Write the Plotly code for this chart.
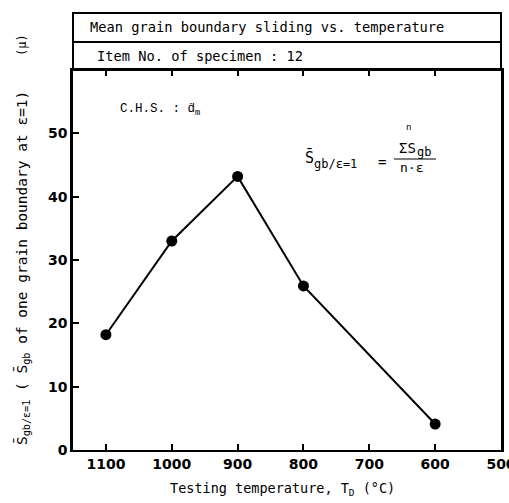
import plotly.graph_objects as go

temps = [1100, 1000, 900, 800, 600]
sliding = [18.2, 33.0, 43.2, 25.9, 4.1]
x_ticks = [1100, 1000, 900, 800, 700, 600, 500]
y_ticks = [0, 10, 20, 30, 40, 50]

W, H = 509, 503
L, R, T, B = 73, 8, 70, 53
ph = H - T - B

def py(p):
    return (H - B - p) / ph

def px(p):
    return (p - L) / (W - L - R)

fig = go.Figure()
fig.add_trace(go.Scatter(
    x=temps, y=sliding, mode="lines+markers",
    line=dict(color="black", width=2),
    marker=dict(color="black", size=11),
    showlegend=False,
))

mono = "DejaVu Sans Mono"
tickfont = dict(family="DejaVu Sans", size=14, color="black", weight="bold")
fig.update_layout(
    width=W, height=H,
    margin=dict(l=L, r=R, t=T, b=B),
    paper_bgcolor="white", plot_bgcolor="white",
    xaxis=dict(range=[1150, 500], tickvals=x_ticks, ticks="inside", ticklen=6,
               tickwidth=1.5, tickcolor="black", showline=True, linecolor="black",
               linewidth=2, mirror="allticks", showgrid=False, zeroline=False,
               ticklabeloverflow="allow", automargin=False, tickfont=tickfont),
    yaxis=dict(range=[0, 60], tickvals=y_ticks, ticks="inside", ticklen=6,
               tickwidth=1.5, tickcolor="black", showline=True, linecolor="black",
               linewidth=2.5, mirror=True, showgrid=False, zeroline=False,
               automargin=False, tickfont=tickfont),
)

# Header boxes
for y0, y1 in [(42, 13), (70, 42)]:
    fig.add_shape(type="rect", xref="paper", yref="paper", x0=0, x1=1,
                  y0=py(y0), y1=py(y1), line=dict(color="black", width=2))

# Fraction line
fig.add_shape(type="line", xref="paper", yref="paper", x0=px(394), x1=px(436),
              y0=py(159), y1=py(159), line=dict(color="black", width=1.2))

def ann(text, x, y, size=13, family=mono, xanchor="left", angle=0):
    fig.add_annotation(text=text, xref="paper", yref="paper", x=px(x), y=py(y),
                       showarrow=False, xanchor=xanchor, yanchor="middle",
                       textangle=angle, borderpad=0,
                       font=dict(family=family, size=size, color="black"))

ann("Mean grain boundary sliding vs. temperature", 89, 27, size=13.7)
ann("Item No. of specimen : 12", 96, 56, size=13.7)
ann("C.H.S. : ḋ<sub>m</sub>", 119, 110, size=12.5, family="Liberation Mono")
# formula
ann("S̄", 304, 157, size=15)
ann("gb/ε=1", 313, 164, size=12)
ann("=", 377, 162, size=14)
ann("ΣS", 398, 148, size=14)
ann("gb", 416, 152, size=12)
ann("n", 405, 127, size=9)
ann("n·ε", 399, 167, size=13)
ann("Testing temperature, T<sub>D</sub> (°C)", 282, 489, size=13.5, xanchor="center")
ann("S̄<sub>gb/ε=1</sub> ( S̄<sub>gb</sub> of one grain boundary at ε=1)", 22, 268,
    size=14.5, xanchor="center", angle=-90)
ann("(μ)", 22, 45, size=12, xanchor="center", angle=-90)

fig.write_html("out.html", post_script="document.body.style.margin='0';",
               config={"displayModeBar": False})
